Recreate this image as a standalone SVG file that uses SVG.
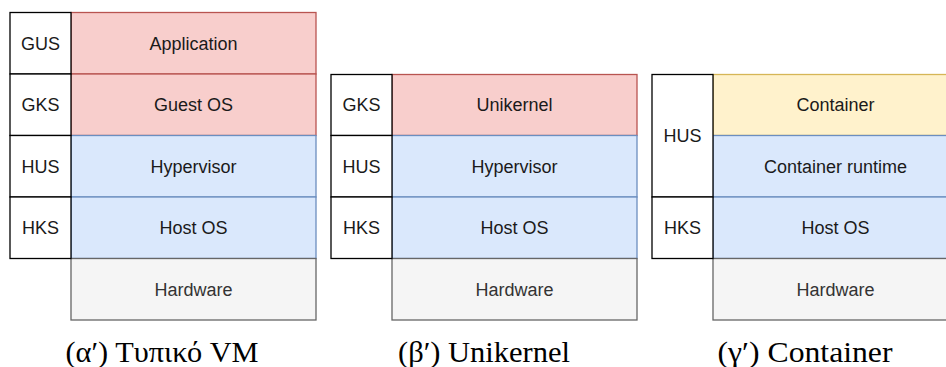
<svg xmlns="http://www.w3.org/2000/svg" width="946" height="367" viewBox="0 0 946 367">
<style>
.lab{fill:#ffffff;stroke:#000000;stroke-width:1.3}
.red{fill:#f8cecc;stroke:#b85450;stroke-width:1.3}
.blue{fill:#dae8fc;stroke:#6c8ebf;stroke-width:1.3}
.yel{fill:#fff2cc;stroke:#d6b656;stroke-width:1.3}
.gray{fill:#f5f5f5;stroke:#666666;stroke-width:1.3}
text{font-family:"Liberation Sans",Arial,sans-serif;font-size:18px;fill:#1a1a1a;text-anchor:middle}
text.hw{fill:#333333}
text.cap{font-family:"Liberation Serif","DejaVu Serif",serif;font-size:30px;fill:#000000}
</style>
<rect width="946" height="367" fill="#ffffff"/>
<!-- Panel alpha -->
<g id="vm">
  <g id="vm-app"><rect class="red" x="71" y="12.5" width="245" height="61.5"/><text x="193.5" y="49.5">Application</text></g>
  <g id="vm-guest"><rect class="red" x="71" y="74" width="245" height="61.5"/><text x="193.5" y="111">Guest OS</text></g>
  <g id="vm-hyp"><rect class="blue" x="71" y="135.5" width="245" height="61.5"/><text x="193.5" y="172.5">Hypervisor</text></g>
  <g id="vm-host"><rect class="blue" x="71" y="197" width="245" height="61.5"/><text x="193.5" y="234">Host OS</text></g>
  <g id="vm-hw"><rect class="gray" x="71" y="258.5" width="245" height="61.5"/><text class="hw" x="193.5" y="295.5">Hardware</text></g>
  <g id="vm-gus"><rect class="lab" x="10" y="12.5" width="61" height="61.5"/><text x="40.5" y="49.5">GUS</text></g>
  <g id="vm-gks"><rect class="lab" x="10" y="74" width="61" height="61.5"/><text x="40.5" y="111">GKS</text></g>
  <g id="vm-hus"><rect class="lab" x="10" y="135.5" width="61" height="61.5"/><text x="40.5" y="172.5">HUS</text></g>
  <g id="vm-hks"><rect class="lab" x="10" y="197" width="61" height="61.5"/><text x="40.5" y="234">HKS</text></g>
  <text class="cap" x="162" y="362" textLength="193" lengthAdjust="spacingAndGlyphs">(α′) Τυπικό VM</text>
</g>
<!-- Panel beta -->
<g id="uk">
  <g id="uk-uni"><rect class="red" x="392" y="74.5" width="245" height="61"/><text x="514.5" y="111">Unikernel</text></g>
  <g id="uk-hyp"><rect class="blue" x="392" y="135.5" width="245" height="61.5"/><text x="514.5" y="172.5">Hypervisor</text></g>
  <g id="uk-host"><rect class="blue" x="392" y="197" width="245" height="61.5"/><text x="514.5" y="234">Host OS</text></g>
  <g id="uk-hw"><rect class="gray" x="392" y="258.5" width="245" height="61.5"/><text class="hw" x="514.5" y="295.5">Hardware</text></g>
  <g id="uk-gks"><rect class="lab" x="331" y="74.5" width="61" height="61"/><text x="361.5" y="111">GKS</text></g>
  <g id="uk-hus"><rect class="lab" x="331" y="135.5" width="61" height="61.5"/><text x="361.5" y="172.5">HUS</text></g>
  <g id="uk-hks"><rect class="lab" x="331" y="197" width="61" height="61.5"/><text x="361.5" y="234">HKS</text></g>
  <text class="cap" x="484" y="362" textLength="172" lengthAdjust="spacingAndGlyphs">(β′) Unikernel</text>
</g>
<!-- Panel gamma -->
<g id="ct">
  <g id="ct-cont"><rect class="yel" x="713" y="74.5" width="245" height="61"/><text x="835.5" y="111">Container</text></g>
  <g id="ct-rt"><rect class="blue" x="713" y="135.5" width="245" height="61.5"/><text x="835.5" y="172.5">Container runtime</text></g>
  <g id="ct-host"><rect class="blue" x="713" y="197" width="245" height="61.5"/><text x="835.5" y="234">Host OS</text></g>
  <g id="ct-hw"><rect class="gray" x="713" y="258.5" width="245" height="61.5"/><text class="hw" x="835.5" y="295.5">Hardware</text></g>
  <g id="ct-hus"><rect class="lab" x="652" y="74.5" width="61" height="122.5"/><text x="682.5" y="142">HUS</text></g>
  <g id="ct-hks"><rect class="lab" x="652" y="197" width="61" height="61.5"/><text x="682.5" y="234">HKS</text></g>
  <text class="cap" x="805" y="362" textLength="175" lengthAdjust="spacingAndGlyphs">(γ′) Container</text>
</g>
</svg>
